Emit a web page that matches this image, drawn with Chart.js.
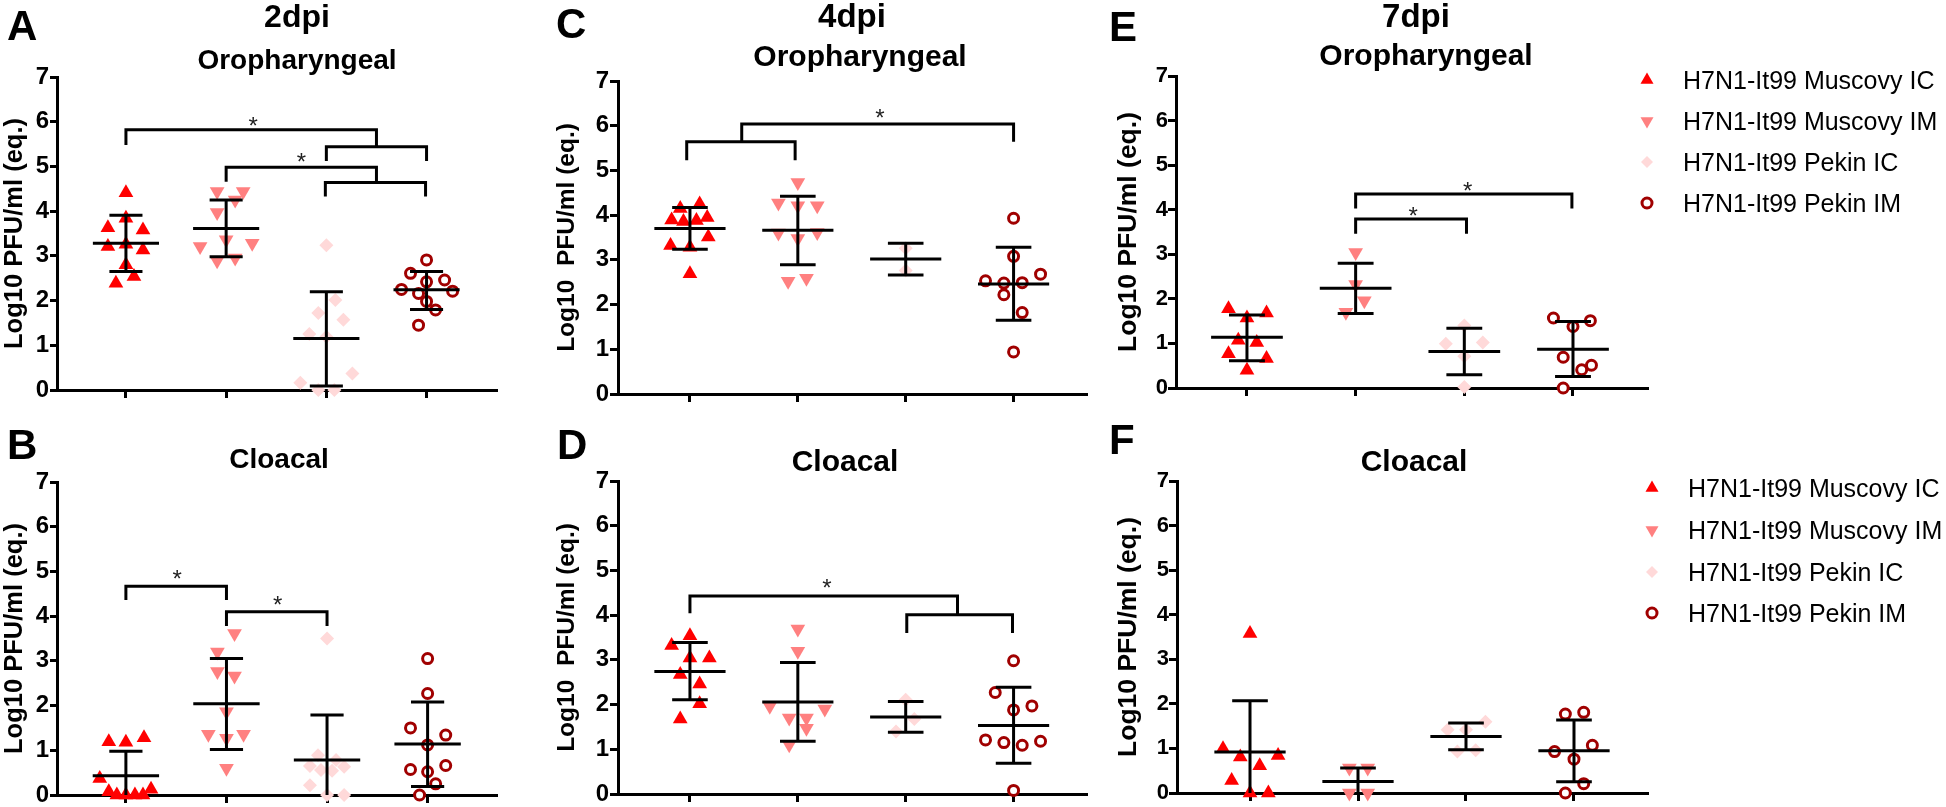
<!DOCTYPE html>
<html>
<head>
<meta charset="utf-8">
<script src="https://cdn.jsdelivr.net/npm/chart.js@4.4.1/dist/chart.umd.min.js"></script>
<style>
html,body{margin:0;padding:0;background:#fff;width:1946px;height:807px;overflow:hidden;position:relative;}
canvas{position:absolute;}
</style>
</head>
<body>
<canvas id="cA"></canvas><canvas id="cB"></canvas><canvas id="cC"></canvas>
<canvas id="cD"></canvas><canvas id="cE"></canvas><canvas id="cF"></canvas>
<script>
// ---------------- DATA ----------------
const CATEGORIES = [1, 2, 3, 4];
const GROUPS = ['H7N1-It99 Muscovy IC', 'H7N1-It99 Muscovy IM', 'H7N1-It99 Pekin IC', 'H7N1-It99 Pekin IM'];
const Y_TICKS = [0, 1, 2, 3, 4, 5, 6, 7];

// A: 2dpi Oropharyngeal
const A_muscovyIC = [4.41, 3.84, 3.63, 3.58, 3.21, 3.26, 3.13, 2.80, 2.54, 2.39];
const A_muscovyIC_jit = [0, 0, -0.18, 0.17, -0.18, 0, 0.17, 0, 0.08, -0.1];
const A_muscovyIM = [4.44, 4.44, 4.25, 3.97, 3.36, 3.21, 3.28, 2.89, 2.95];
const A_muscovyIM_jit = [-0.09, 0.17, 0.09, -0.09, 0, -0.26, 0.26, -0.09, 0.09];
const A_pekinIC = [3.24, 2.01, 1.72, 1.57, 1.25, 1.19, 0.37, 0.16, 0.0, 0.0];
const A_pekinIC_jit = [0, 0.09, -0.08, 0.17, -0.17, 0, 0.26, -0.26, -0.08, 0.08];
const A_pekinIM = [2.91, 2.61, 2.46, 2.42, 2.25, 2.21, 2.16, 1.98, 1.79, 1.45];
const A_pekinIM_jit = [0, -0.16, 0.18, 0, -0.25, 0.26, -0.08, 0, 0.09, -0.08];
const A_mean = [3.28, 3.61, 1.15, 2.24];
const A_sdHigh = [3.91, 4.25, 2.20, 2.65];
const A_sdLow = [2.65, 2.98, 0.09, 1.80];
const A_brackets = [
  [[1, 5.48], [1, 5.82], [3.5, 5.82], [3.5, 5.44]],
  [[3, 5.12], [3, 5.44], [4, 5.44], [4, 5.12]],
  [[2, 4.66], [2, 4.98], [3.5, 4.98], [3.5, 4.64]],
  [[2.99, 4.33], [2.99, 4.64], [3.99, 4.64], [3.99, 4.33]]
];
const A_stars = [[2.27, 6.04], [2.75, 5.23]];

// B: 2dpi Cloacal
const B_muscovyIC = [1.19, 1.18, 1.28, 0.37, 0.07, 0, 0, 0, 0, 0.13];
const B_muscovyIC_jit = [-0.17, 0, 0.18, -0.26, -0.17, -0.09, 0, 0.09, 0.17, 0.25];
const B_muscovyIM = [3.61, 3.20, 2.76, 2.66, 1.86, 1.36, 1.36, 1.27, 0.60];
const B_muscovyIM_jit = [0.08, -0.09, -0.09, 0.08, 0, -0.18, 0.17, 0, 0];
const B_pekinIC = [3.50, 0.89, 0.78, 0.65, 0.63, 0.56, 0.54, 0.22, 0, 0];
const B_pekinIC_jit = [0, -0.09, 0.09, -0.17, 0.17, -0.06, 0.05, -0.17, 0, 0.17];
const B_pekinIM = [3.05, 2.27, 1.50, 1.34, 1.12, 0.57, 0.52, 0.66, 0.25, 0.0];
const B_pekinIM_jit = [0, 0, -0.17, 0.18, 0, -0.17, 0, 0.18, 0.08, -0.08];
const B_mean = [0.43, 2.04, 0.78, 1.14];
const B_sdHigh = [0.98, 3.05, 1.79, 2.08];
const B_sdLow = [-0.12, 1.02, -0.22, 0.19];
const B_brackets = [
  [[1, 4.36], [1, 4.67], [2, 4.67], [2, 4.36]],
  [[2, 3.78], [2, 4.10], [3, 4.10], [3, 3.78]]
];
const B_stars = [[1.51, 4.95], [2.51, 4.37]];

// C: 4dpi Oropharyngeal
const C_muscovyIC = [4.25, 4.15, 3.95, 3.89, 3.86, 3.88, 3.51, 3.32, 3.28, 2.69];
const C_muscovyIC_jit = [0.09, -0.09, 0.16, -0.17, -0.06, 0.06, 0.17, -0.18, 0, 0];
const C_muscovyIM = [4.73, 4.27, 4.21, 4.21, 3.60, 3.61, 3.48, 2.52, 2.59];
const C_muscovyIM_jit = [0, -0.18, 0, 0.18, -0.18, 0.18, 0, -0.09, 0.08];
const C_pekinIC = [3.26, 2.76];
const C_pekinIC_jit = [0, 0];
const C_pekinIM = [3.93, 3.08, 2.68, 2.53, 2.48, 2.49, 2.22, 1.82, 0.94];
const C_pekinIM_jit = [0, 0, 0.25, -0.26, -0.09, 0.08, -0.09, 0.08, 0];
const C_mean = [3.70, 3.66, 3.02, 2.46];
const C_sdHigh = [4.17, 4.42, 3.37, 3.28];
const C_sdLow = [3.24, 2.89, 2.66, 1.65];
const C_brackets = [
  [[0.97, 5.23], [0.97, 5.64], [1.975, 5.64], [1.975, 5.23]],
  [[1.48, 5.64], [1.48, 6.04], [4, 6.04], [4, 5.64]]
];
const C_stars = [[2.76, 6.31]];

// D: 4dpi Cloacal
const D_muscovyIC = [3.54, 3.32, 3.04, 3.04, 2.67, 2.46, 2.02, 1.68];
const D_muscovyIC_jit = [0, -0.17, 0, 0.18, -0.09, 0.09, 0.09, -0.09];
const D_muscovyIM = [3.69, 3.19, 1.96, 1.90, 1.70, 1.70, 1.47, 1.10];
const D_muscovyIM_jit = [0, 0, -0.26, 0.25, -0.08, 0.08, 0.08, -0.08];
const D_pekinIC = [2.11, 1.68, 1.40];
const D_pekinIC_jit = [0, 0.08, -0.09];
const D_pekinIM = [2.98, 2.27, 1.88, 1.97, 1.21, 1.15, 1.09, 1.18, 0.08];
const D_pekinIM_jit = [0, -0.17, 0, 0.17, -0.26, -0.09, 0.08, 0.25, 0];
const D_mean = [2.74, 2.06, 1.72, 1.53];
const D_sdHigh = [3.39, 2.94, 2.07, 2.39];
const D_sdLow = [2.11, 1.18, 1.38, 0.69];
const D_brackets = [
  [[1, 4.04], [1, 4.43], [3.48, 4.43], [3.48, 4.01]],
  [[3.01, 3.60], [3.01, 4.01], [3.99, 4.01], [3.99, 3.60]]
];
const D_stars = [[2.27, 4.73]];

// E: 7dpi Oropharyngeal
const E_muscovyIC = [1.78, 1.68, 1.57, 1.07, 1.02, 0.77, 0.66, 0.40];
const E_muscovyIC_jit = [-0.17, 0.18, 0, -0.08, 0.09, -0.17, 0.18, 0];
const E_muscovyIM = [3.04, 2.32, 1.96, 1.70];
const E_muscovyIM_jit = [0, 0, 0.08, -0.09];
const E_pekinIC = [1.40, 0.99, 1.02, 0.71, 0.02];
const E_pekinIC_jit = [0, -0.17, 0.17, 0, 0];
const E_pekinIM = [1.57, 1.51, 1.38, 0.69, 0.51, 0.41, 0.0];
const E_pekinIM_jit = [-0.18, 0.16, 0, -0.09, 0.17, 0.08, -0.09];
const E_mean = [1.14, 2.24, 0.82, 0.87];
const E_sdHigh = [1.64, 2.80, 1.34, 1.49];
const E_sdLow = [0.61, 1.67, 0.30, 0.26];
const E_brackets = [
  [[2, 4.03], [2, 4.35], [3.99, 4.35], [3.99, 4.03]],
  [[2, 3.46], [2, 3.79], [3.02, 3.79], [3.02, 3.46]]
];
const E_stars = [[3.03, 4.56], [2.53, 3.98]];

// F: 7dpi Cloacal
const F_muscovyIC = [3.58, 0.99, 0.81, 0.84, 0.61, 0.28, 0, 0];
const F_muscovyIC_jit = [0, -0.25, -0.09, 0.26, 0.09, -0.17, 0, 0.17];
const F_muscovyIM = [0.56, 0.56, 0, 0];
const F_muscovyIM_jit = [-0.08, 0.09, -0.08, 0.09];
const F_pekinIC = [1.60, 1.42, 1.42, 0.93, 0.96];
const F_pekinIC_jit = [0.18, -0.17, 0, -0.08, 0.09];
const F_pekinIM = [1.77, 1.81, 1.07, 0.93, 0.76, 0.21, 0.0];
const F_pekinIM_jit = [-0.08, 0.09, 0.17, -0.18, 0, 0.09, -0.08];
const F_mean = [0.92, 0.26, 1.27, 0.95];
const F_sdHigh = [2.07, 0.56, 1.57, 1.64];
const F_sdLow = [-0.23, -0.04, 0.97, 0.25];
const F_brackets = [];
const F_stars = [];

const Y_TITLE = 'Log10 PFU/ml (eq.)';
const Y_TITLE_WIDE = 'Log10  PFU/ml (eq.)';

// ---------------- STYLE / LAYOUT ----------------
const FONT = "'Liberation Sans', Arial, Helvetica, sans-serif";
const MARKERS = [
  {pointStyle: 'triangle', rotation: 0, radius: 8.5, legendRadius: 7.5, fill: '#FF0000', stroke: '#FF0000', bw: 0},
  {pointStyle: 'triangle', rotation: 180, radius: 8.5, legendRadius: 7.5, fill: '#FF8080', stroke: '#FF8080', bw: 0},
  {pointStyle: 'rectRot', rotation: 0, radius: 7, legendRadius: 6, fill: '#FFD9D9', stroke: '#FFD9D9', bw: 0},
  {pointStyle: 'circle', rotation: 0, radius: 5, legendRadius: 5, fill: '#FFFFFF', stroke: '#A00000', bw: 3}
];
const MEAN_HALF = 0.33, CAP_HALF = 0.165;

const PANELS = {
  A: {values: [A_muscovyIC, A_muscovyIM, A_pekinIC, A_pekinIM], jit: [A_muscovyIC_jit, A_muscovyIM_jit, A_pekinIC_jit, A_pekinIM_jit],
      mean: A_mean, hi: A_sdHigh, lo: A_sdLow, brackets: A_brackets, stars: A_stars, yTitle: Y_TITLE,
      canvas: [0, 0, 505, 420], area: [57, 77, 497, 390], xRange: [0.312, 4.698], tickFont: 24, tickLen: 7, tickPad: 1, titleSize: 25.5, titlePad: 2.5,
      texts: [['A', 7, 40, 42, 'left'], ['2dpi', 297, 27, 32, 'center'], ['Oropharyngeal', 297, 69, 28, 'center']]},
  B: {values: [B_muscovyIC, B_muscovyIM, B_pekinIC, B_pekinIM], jit: [B_muscovyIC_jit, B_muscovyIM_jit, B_pekinIC_jit, B_pekinIM_jit],
      mean: B_mean, hi: B_sdHigh, lo: B_sdLow, brackets: B_brackets, stars: B_stars, yTitle: Y_TITLE,
      canvas: [0, 400, 505, 430], area: [57, 482, 497, 795], xRange: [0.315, 4.685], tickFont: 24, tickLen: 7, tickPad: 1, titleSize: 25.5, titlePad: 2.5,
      texts: [['B', 7, 459, 42, 'left'], ['Cloacal', 279, 468, 28, 'center']]},
  C: {values: [C_muscovyIC, C_muscovyIM, C_pekinIC, C_pekinIM], jit: [C_muscovyIC_jit, C_muscovyIM_jit, C_pekinIC_jit, C_pekinIM_jit],
      mean: C_mean, hi: C_sdHigh, lo: C_sdLow, brackets: C_brackets, stars: C_stars, yTitle: Y_TITLE_WIDE,
      canvas: [552, 0, 543, 420], area: [618, 81, 1087, 394], xRange: [0.333, 4.676], tickFont: 24, tickLen: 8, tickPad: 1, titleSize: 24.5, titlePad: 2.5,
      texts: [['C', 556, 38, 42, 'left'], ['4dpi', 852, 27, 33, 'center'], ['Oropharyngeal', 860, 66, 30, 'center']]},
  D: {values: [D_muscovyIC, D_muscovyIM, D_pekinIC, D_pekinIM], jit: [D_muscovyIC_jit, D_muscovyIM_jit, D_pekinIC_jit, D_pekinIM_jit],
      mean: D_mean, hi: D_sdHigh, lo: D_sdLow, brackets: D_brackets, stars: D_stars, yTitle: Y_TITLE_WIDE,
      canvas: [552, 400, 543, 430], area: [618, 481, 1087, 794], xRange: [0.333, 4.676], tickFont: 24, tickLen: 8, tickPad: 1, titleSize: 24.5, titlePad: 2.5,
      texts: [['D', 557, 459, 42, 'left'], ['Cloacal', 845, 471, 30, 'center']]},
  E: {values: [E_muscovyIC, E_muscovyIM, E_pekinIC, E_pekinIM], jit: [E_muscovyIC_jit, E_muscovyIM_jit, E_pekinIC_jit, E_pekinIM_jit],
      mean: E_mean, hi: E_sdHigh, lo: E_sdLow, brackets: E_brackets, stars: E_stars, yTitle: Y_TITLE,
      canvas: [1105, 0, 841, 420], area: [1176, 76, 1647, 388], xRange: [0.347, 4.681], tickFont: 22, tickLen: 8, tickPad: 0, titleSize: 26.5, titlePad: 10.5,
      texts: [['E', 1109, 41, 42, 'left'], ['7dpi', 1416, 27, 33, 'center'], ['Oropharyngeal', 1426, 65, 30, 'center']],
      legend: {markerX: 1647, textX: 1683, rows: [80, 121, 162, 203]}},
  F: {values: [F_muscovyIC, F_muscovyIM, F_pekinIC, F_pekinIM], jit: [F_muscovyIC_jit, F_muscovyIM_jit, F_pekinIC_jit, F_pekinIM_jit],
      mean: F_mean, hi: F_sdHigh, lo: F_sdLow, brackets: F_brackets, stars: F_stars, yTitle: Y_TITLE,
      canvas: [1105, 400, 841, 430], area: [1177, 481, 1647, 793], xRange: [0.324, 4.676], tickFont: 22, tickLen: 8, tickPad: 0, titleSize: 26.5, titlePad: 10.5,
      texts: [['F', 1109, 454, 42, 'left'], ['Cloacal', 1414, 471, 30, 'center']],
      legend: {markerX: 1652, textX: 1688, rows: [488, 530, 572, 613]}}
};

function drawMarker(ctx, st, x, y, r) {
  ctx.save();
  ctx.fillStyle = st.fill; ctx.strokeStyle = st.stroke; ctx.lineWidth = st.bw;
  const opts = {pointStyle: st.pointStyle, rotation: st.rotation, radius: r, borderWidth: st.bw};
  if (window.Chart && Chart.helpers && Chart.helpers.drawPoint) {
    Chart.helpers.drawPoint(ctx, opts, x, y);
  } else {
    ctx.beginPath();
    if (st.pointStyle === 'circle') ctx.arc(x, y, r, 0, Math.PI * 2);
    else if (st.pointStyle === 'rectRot') { ctx.moveTo(x, y - r); ctx.lineTo(x + r, y); ctx.lineTo(x, y + r); ctx.lineTo(x - r, y); ctx.closePath(); }
    else { let a = st.rotation * Math.PI / 180; for (let k = 0; k < 3; k++) { const px = x + Math.sin(a) * r, py = y - Math.cos(a) * r; k ? ctx.lineTo(px, py) : ctx.moveTo(px, py); a += 2 * Math.PI / 3; } ctx.closePath(); }
    ctx.fill(); if (st.bw > 0) ctx.stroke();
  }
  ctx.restore();
}

const overlayPlugin = {
  id: 'overlay',
  afterDraw(chart, args, opts) {
    const p = PANELS[opts.key];
    const ctx = chart.ctx;
    const ox = p.canvas[0], oy = p.canvas[1];
    const xs = chart.scales.x, ys = chart.scales.y;
    ctx.save();
    // significance stars
    const starSize = 24;
    ctx.fillStyle = '#222';
    ctx.font = starSize + 'px ' + FONT;
    ctx.textAlign = 'center';
    ctx.textBaseline = 'alphabetic';
    p.stars.forEach(([sx, sy]) => {
      ctx.fillText('*', xs.getPixelForValue(sx), ys.getPixelForValue(sy) + 0.575 * starSize);
    });
    // panel letters and titles
    ctx.fillStyle = '#000';
    p.texts.forEach(([t, x, y, size, align]) => {
      ctx.font = 'bold ' + size + 'px ' + FONT;
      ctx.textAlign = align;
      ctx.fillText(t, x - ox, y - oy);
    });
    // legend
    if (p.legend) {
      const L = p.legend;
      ctx.font = '25px ' + FONT;
      ctx.textAlign = 'left';
      GROUPS.forEach((g, i) => {
        const cy = L.rows[i] - oy;
        drawMarker(ctx, MARKERS[i], L.markerX - ox, cy, MARKERS[i].legendRadius);
        ctx.fillStyle = '#000';
        ctx.fillText(g, L.textX - ox, cy + 0.358 * 25);
      });
    }
    ctx.restore();
  }
};

function buildDatasets(p) {
  const ds = [];
  const bars = [];
  CATEGORIES.forEach((c, i) => {
    const m = p.mean[i], hi = p.hi[i], lo = p.lo[i];
    bars.push({x: c - MEAN_HALF, y: m}, {x: c + MEAN_HALF, y: m}, {x: c, y: null},
              {x: c, y: lo}, {x: c, y: hi}, {x: c, y: null},
              {x: c - CAP_HALF, y: hi}, {x: c + CAP_HALF, y: hi}, {x: c, y: null},
              {x: c - CAP_HALF, y: lo}, {x: c + CAP_HALF, y: lo}, {x: c, y: null});
  });
  ds.push({label: 'mean ± SD', data: bars, showLine: true, spanGaps: false, borderColor: '#000', borderWidth: 3,
           pointRadius: 0, pointHoverRadius: 0, tension: 0, order: 0, borderCapStyle: 'butt'});
  const br = [];
  p.brackets.forEach(b => { b.forEach(([x, y]) => br.push({x, y})); br.push({x: b[0][0], y: null}); });
  if (br.length) {
    ds.push({label: 'significance', data: br, showLine: true, spanGaps: false, borderColor: '#000', borderWidth: 3,
             pointRadius: 0, pointHoverRadius: 0, tension: 0, order: 0, borderJoinStyle: 'miter', borderCapStyle: 'butt'});
  }
  CATEGORIES.forEach((c, g) => {
    const st = MARKERS[g];
    ds.push({
      label: GROUPS[g],
      data: p.values[g].map((v, k) => ({x: c + p.jit[g][k], y: v})),
      showLine: false, clip: false, order: 1,
      pointStyle: st.pointStyle, pointRotation: st.rotation, pointRadius: st.radius, pointHoverRadius: st.radius,
      pointBackgroundColor: st.fill, pointBorderColor: st.stroke, pointBorderWidth: st.bw,
      backgroundColor: st.fill, borderColor: st.stroke
    });
  });
  return ds;
}

Object.keys(PANELS).forEach(key => {
  const p = PANELS[key];
  const [cl, ct, cw, chh] = p.canvas;
  const [al, at, ar, ab] = p.area;
  const cv = document.getElementById('c' + key);
  cv.width = cw; cv.height = chh;
  cv.style.left = cl + 'px'; cv.style.top = ct + 'px';
  cv.style.width = cw + 'px'; cv.style.height = chh + 'px';
  const padTop = at - ct, padRight = cl + cw - ar, yW = al - cl, xH = ct + chh - ab;
  const gridCommon = {drawOnChartArea: false, drawTicks: true, color: '#000', lineWidth: 3};
  new Chart(cv, {
    type: 'scatter',
    data: {datasets: buildDatasets(p)},
    options: {
      responsive: false, maintainAspectRatio: false, animation: false, devicePixelRatio: 1, events: [],
      layout: {padding: {left: 0, top: padTop, right: padRight, bottom: 0}},
      plugins: {legend: {display: false}, tooltip: {enabled: false}, title: {display: false}, overlay: {key}},
      scales: {
        x: {
          type: 'linear', position: 'bottom', min: p.xRange[0], max: p.xRange[1],
          afterBuildTicks: s => { s.ticks = CATEGORIES.map(v => ({value: v})); },
          afterFit: s => { s.height = xH; },
          ticks: {display: false},
          grid: Object.assign({tickLength: 8}, gridCommon),
          border: {display: true, color: '#000', width: 3}
        },
        y: {
          type: 'linear', position: 'left', min: 0, max: 7,
          afterBuildTicks: s => { s.ticks = Y_TICKS.map(v => ({value: v})); },
          afterFit: s => { s.width = yW; },
          ticks: {color: '#000', padding: p.tickPad, font: {family: FONT, weight: 'bold', size: p.tickFont}},
          grid: Object.assign({tickLength: p.tickLen}, gridCommon),
          border: {display: true, color: '#000', width: 3},
          title: {display: true, text: p.yTitle, color: '#000', padding: {top: p.titlePad, bottom: 0},
                  font: {family: FONT, weight: 'bold', size: p.titleSize, lineHeight: 1}}
        }
      }
    },
    plugins: [overlayPlugin]
  });
});
</script>
</body>
</html>
